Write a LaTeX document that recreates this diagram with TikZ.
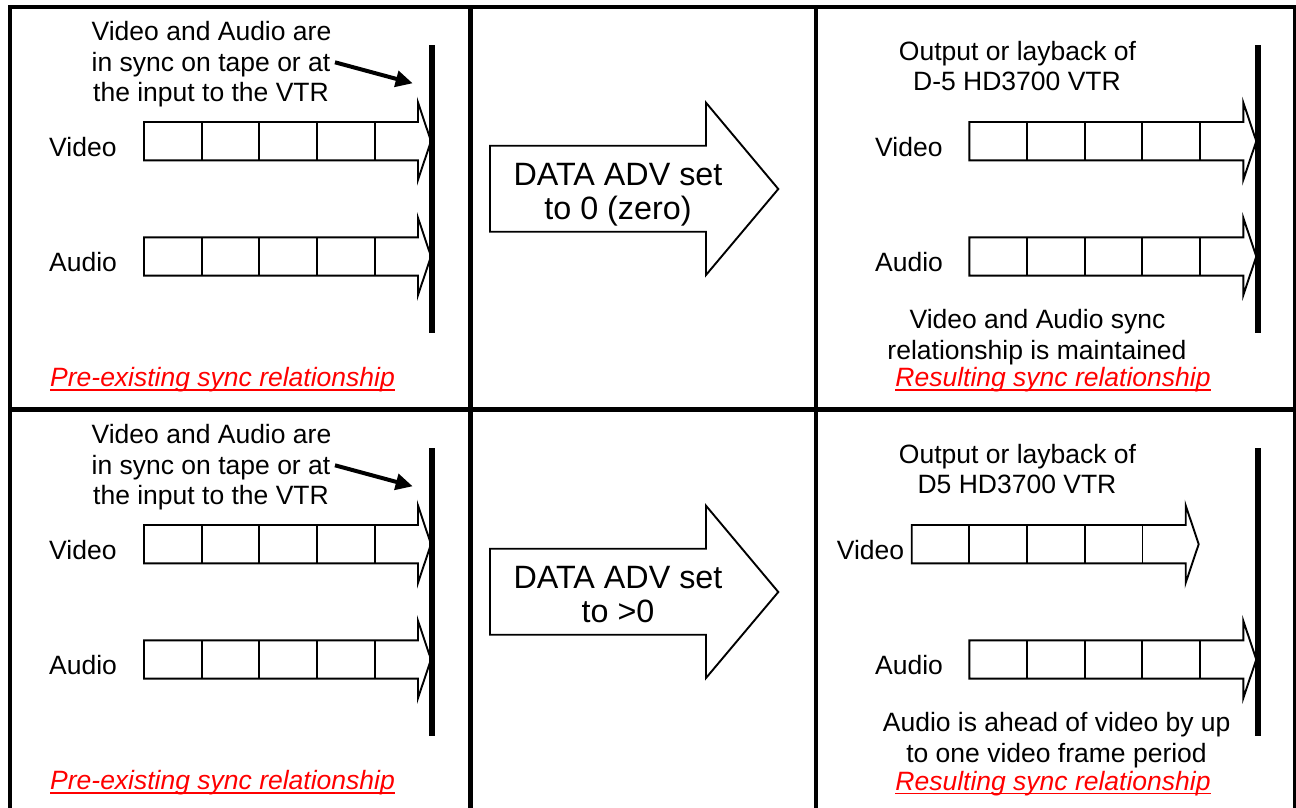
\documentclass[tikz,border=0pt]{standalone}
\usepackage{fontspec}
\setmainfont{Liberation Sans}
\usetikzlibrary{arrows.meta}
\newcommand\framestrip[2]{%
  \draw[strip] (#1,#2) -- ++(274,0) -- ++(0,-19.5) -- ++(13,38.65) -- ++(-13,38.65) -- ++(0,-19.5) -- ++(-274,0) -- cycle;
  \foreach \k in {1,...,4} \draw[strip] (#1+\k*57.7,#2) -- ++(0,38.3);
}
\newcommand\bigarr[1]{%
  \draw[bigarrow] (490,#1+145.7) -- (706,#1+145.7) -- (706,#1+102.7) -- (778.3,#1+189) -- (706,#1+275) -- (706,#1+231.7) -- (490,#1+231.7) -- cycle;
}
\begin{document}
\begin{tikzpicture}[x=1pt,y=-1pt,
  txt/.style={font=\fontsize{26.5}{30}\selectfont, inner sep=0pt, anchor=base},
  txtl/.style={txt, anchor=base west},
  big/.style={font=\fontsize{32.3}{36}\selectfont, inner sep=0pt, anchor=base},
  redlbl/.style={inner sep=0pt, anchor=base, text=red, font=\fontsize{26.5}{30}\selectfont\itshape},
  uline/.style={red, line width=1.6pt},
  gridline/.style={line width=4.5pt},
  bar/.style={line width=5.5pt},
  strip/.style={line width=1.9pt, line join=miter},
  bigarrow/.style={line width=1.9pt, line join=miter},
  pointer/.style={line width=4pt, -{Triangle[length=17pt,width=16pt]}},
]
\useasboundingbox (0,0) rectangle (1296,807);
\fill[white] (0,0) rectangle (1296,807);

% grid
\draw[gridline] (10,7) rectangle (1295,812);
\draw[gridline] (470.5,7) -- (470.5,812);
\draw[gridline] (816,7) -- (816,812);
\draw[gridline] (10,409.5) -- (1295,409.5);

% ---------- top row ----------
\node[txt] (tl1) at (211.5,40.7) {Video and Audio are};
\node[txt] (tl2) at (211,71) {in sync on tape or at};
\node[txt] (tl3) at (211,101) {the input to the VTR};
\coordinate (ptailA) at (335,62.3);
\coordinate (pheadA) at (412.7,83.3);
\draw[pointer] (ptailA) -- (pheadA);
\draw[bar] (432,45) -- (432,332.7);
\node[txtl] (tlv) at (49,156) {Video};
\node[txtl] (tla) at (49,271.7) {Audio};
\framestrip{144}{122}
\framestrip{144}{237.3}
\node[redlbl, anchor=base west] (tlr) at (50,386.7) {Pre-existing sync relationship};
\draw[uline] ([yshift=-3.5pt]tlr.base west) -- ([yshift=-3.5pt]tlr.base east);

\bigarr{0}
\node[big] (tm1) at (618,185) {DATA ADV set};
\node[big] (tm2) at (618,219) {to 0 (zero)};

\node[txt] (tr1) at (1017.5,60) {Output or layback of};
\node[txt] (tr2) at (1017,90.7) {D-5 HD3700 VTR};
\draw[bar] (1258,45) -- (1258,332.7);
\node[txtl] (trv) at (875,156) {Video};
\node[txtl] (tra) at (875,271.7) {Audio};
\framestrip{969.3}{122}
\framestrip{969.3}{237.3}
\node[txt] (tr3) at (1037.5,328.3) {Video and Audio sync};
\node[txt] (tr4) at (1037,359.3) {relationship is maintained};
\node[redlbl] (trr) at (1053,386.7) {Resulting sync relationship};
\draw[uline] ([yshift=-3.5pt]trr.base west) -- ([yshift=-3.5pt]trr.base east);

% ---------- bottom row ----------
\node[txt] (bl1) at (211.5,443.7) {Video and Audio are};
\node[txt] (bl2) at (211,474) {in sync on tape or at};
\node[txt] (bl3) at (211,504) {the input to the VTR};
\coordinate (ptailB) at (335,465.3);
\coordinate (pheadB) at (412.7,486.3);
\draw[pointer] (ptailB) -- (pheadB);
\draw[bar] (432,448) -- (432,735.7);
\node[txtl] (blv) at (49,559) {Video};
\node[txtl] (bla) at (49,674.7) {Audio};
\framestrip{144}{525}
\framestrip{144}{640.3}
\node[redlbl, anchor=base west] (blr) at (50,789.7) {Pre-existing sync relationship};
\draw[uline] ([yshift=-3.5pt]blr.base west) -- ([yshift=-3.5pt]blr.base east);

\bigarr{403}
\node[big] (bm1) at (618,588) {DATA ADV set};
\node[big] (bm2) at (618,622) {to >0};

\node[txt] (br1) at (1017.5,463) {Output or layback of};
\node[txt] (br2) at (1017,493.7) {D5 HD3700 VTR};
\draw[bar] (1258,448) -- (1258,735.7);
\node[txtl] (brv) at (836.7,559) {Video};
\node[txtl] (bra) at (875,674.7) {Audio};
\framestrip{911.7}{525}
\framestrip{969.3}{640.3}
\node[txt] (br3) at (1056.7,731.7) {Audio is ahead of video by up};
\node[txt] (br4) at (1056.5,762.3) {to one video frame period};
\node[redlbl] (brr) at (1053,790) {Resulting sync relationship};
\draw[uline] ([yshift=-3.5pt]brr.base west) -- ([yshift=-3.5pt]brr.base east);
\end{tikzpicture}
\end{document}
